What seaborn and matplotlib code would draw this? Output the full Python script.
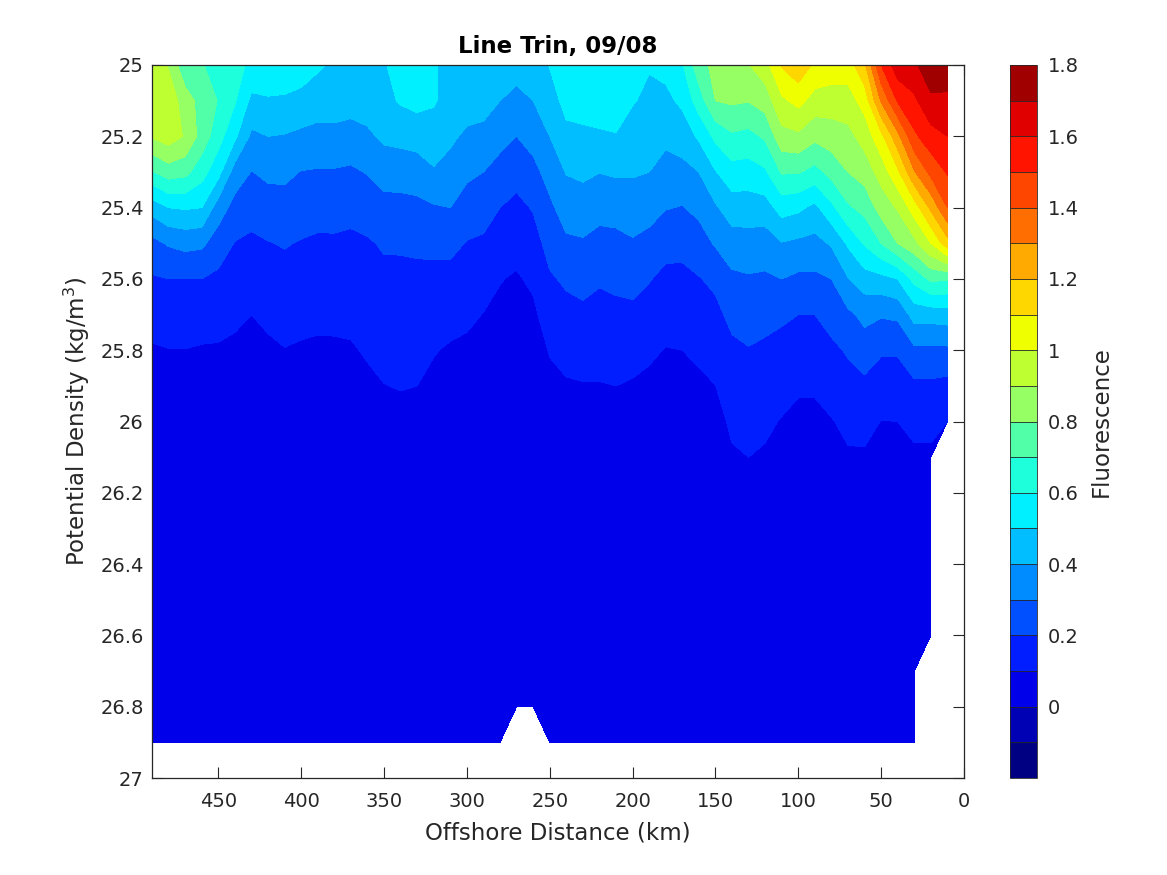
import numpy as np
import matplotlib
matplotlib.use('Agg')
import matplotlib.pyplot as plt
from matplotlib.colors import ListedColormap, BoundaryNorm
import seaborn as sns

nan = np.nan

density = [25.0, 25.1, 25.2, 25.3, 25.4, 25.5, 25.6, 25.7, 25.8, 25.9,
           26.0, 26.1, 26.2, 26.3, 26.4, 26.5, 26.6, 26.7, 26.8, 26.9]
distance = [490, 480, 470, 460, 450, 440, 430, 420, 410, 400, 390, 380, 370, 360, 350, 340, 330,
            320, 310, 300, 290, 280, 270, 260, 250, 240, 230, 220, 210, 200, 190, 180, 170, 160,
            150, 140, 130, 120, 110, 100, 90, 80, 70, 60, 50, 40, 30, 20, 10]

# fluorescence per station, top to bottom
st490 = [.96, .96, .91, .69, .44, .27, .19, .14, .09, .06, .05, .05, .05, .04, .04, .04, .04, .03, .03, .03]
st480 = [.89, .96, .95, .75, .50, .31, .20, .15, .097, .06, .05, .05, .05, .04, .04, .04, .04, .03, .03, .03]
st470 = [.72, .85, .89, .73, .51, .33, .20, .15, .098, .06, .05, .05, .05, .04, .04, .04, .04, .03, .03, .03]
st460 = [.705, .76, .76, .64, .50, .32, .20, .15, .09, .06, .05, .05, .05, .04, .04, .04, .04, .03, .03, .03]
st450 = [.67, .695, .64, .534, .35, .25, .18, .135, .09, .06, .05, .05, .05, .04, .04, .04, .04, .03, .03, .03]
st440 = [.63, .61, .52, .355, .265, .196, .156, .115, .085, .06, .05, .05, .05, .04, .04, .04, .04, .03, .03, .03]
st430 = [.58, .476, .38, .297, .235, .182, .14, .10, .08, .06, .05, .05, .05, .04, .04, .04, .04, .03, .03, .03]
st420 = [.57, .49, .40, .32, .257, .196, .157, .117, .085, .06, .05, .05, .05, .04, .04, .04, .04, .03, .03, .03]
st410 = [.57, .485, .394, .32, .264, .206, .17, .133, .097, .06, .05, .05, .05, .04, .04, .04, .04, .03, .03, .03]
st400 = [.56, .465, .38, .297, .244, .194, .16, .125, .09, .06, .05, .05, .05, .04, .04, .04, .04, .03, .03, .03]
st390 = [.515, .445, .37, .292, .233, .186, .153, .12, .085, .06, .05, .05, .05, .04, .04, .04, .04, .03, .03, .03]
st380 = [.485, .45, .37, .292, .233, .187, .155, .123, .085, .06, .05, .05, .05, .04, .04, .04, .04, .03, .03, .03]
st370 = [.47, .44, .36, .285, .224, .183, .153, .124, .09, .06, .05, .05, .05, .04, .04, .04, .04, .03, .03, .03]
st360 = [.47, .45, .38, .305, .243, .19, .165, .138, .11, .08, .06, .05, .05, .04, .04, .04, .04, .03, .03, .03]
st350 = [.49, .47, .42, .337, .27, .21, .178, .152, .125, .098, .07, .05, .05, .04, .04, .04, .04, .03, .03, .03]
st340 = [.55, .51, .43, .34, .27, .21, .18, .155, .13, .105, .07, .05, .05, .04, .04, .04, .04, .03, .03, .03]
st330 = [.57, .53, .44, .35, .275, .215, .18, .155, .13, .10, .07, .05, .05, .04, .04, .04, .04, .03, .03, .03]
st320 = [.51, .51, .455, .39, .29, .22, .177, .14, .105, .08, .06, .05, .05, .04, .04, .04, .04, .03, .03, .03]
st310 = [.47, .46, .42, .36, .30, .225, .17, .13, .09, .06, .05, .05, .05, .04, .04, .04, .04, .03, .03, .03]
st300 = [.47, .45, .38, .32, .255, .195, .155, .12, .08, .06, .05, .05, .05, .04, .04, .04, .04, .03, .03, .03]
st290 = [.48, .44, .37, .30, .24, .185, .14, .097, .07, .06, .05, .05, .05, .04, .04, .04, .04, .03, .03, .03]
st280 = [.47, .40, .33, .265, .20, .15, .104, .08, .06, .05, .05, .05, .05, .04, .04, .04, .04, .03, .03, .03]
st270 = [.44, .37, .30, .233, .175, .13, .09, .07, .05, .05, .05, .05, .05, .04, .04, .04, .04, .03, .03, nan]
st260 = [.46, .40, .337, .27, .207, .16, .117, .08, .06, .05, .05, .05, .05, .04, .04, .04, .04, .03, .03, nan]
st250 = [.505, .45, .40, .337, .28, .234, .188, .15, .105, .08, .06, .05, .05, .04, .04, .04, .04, .03, .03, .03]
st240 = [.56, .535, .47, .405, .344, .283, .215, .17, .13, .09, .06, .05, .05, .04, .04, .04, .04, .03, .03, .03]
st230 = [.57, .54, .48, .42, .35, .29, .23, .18, .135, .095, .06, .05, .05, .04, .04, .04, .04, .03, .03, .03]
st220 = [.58, .56, .483, .402, .33, .27, .21, .17, .135, .095, .06, .05, .05, .04, .04, .04, .04, .03, .03, .03]
st210 = [.58, .56, .493, .412, .34, .27, .22, .177, .14, .10, .06, .05, .05, .04, .04, .04, .04, .03, .03, .03]
st200 = [.57, .51, .44, .41, .35, .29, .23, .178, .137, .09, .06, .05, .05, .04, .04, .04, .04, .03, .03, .03]
st190 = [.51, .47, .436, .40, .336, .27, .205, .16, .115, .08, .06, .05, .05, .04, .04, .04, .04, .03, .03, .03]
st180 = [.53, .475, .42, .366, .305, .23, .177, .137, .096, .07, .05, .05, .05, .04, .04, .04, .04, .03, .03, .03]
st170 = [.59, .52, .445, .37, .295, .227, .177, .14, .10, .07, .05, .05, .05, .04, .04, .04, .04, .03, .03, .03]
st160 = [.76, .65, .515, .40, .325, .255, .195, .155, .118, .08, .06, .05, .05, .04, .04, .04, .04, .03, .03, .03]
st150 = [.83, .80, .625, .494, .387, .31, .22, .175, .137, .099, .07, .05, .05, .04, .04, .04, .04, .03, .03, .03]
st140 = [.86, .815, .685, .56, .45, .355, .28, .225, .18, .14, .115, .09, .06, .05, .04, .04, .04, .03, .03, .03]
st130 = [.895, .805, .67, .555, .45, .36, .29, .24, .195, .165, .135, .10, .08, .06, .05, .04, .04, .03, .03, .03]
st120 = [.96, .845, .715, .585, .455, .35, .285, .225, .185, .15, .115, .09, .06, .05, .04, .04, .04, .03, .03, .03]
st110 = [1.11, .98, .865, .71, .54, .395, .30, .215, .17, .13, .095, .07, .05, .05, .04, .04, .04, .03, .03, .03]
st100 = [1.17, 1.03, .88, .71, .52, .38, .28, .20, .156, .11, .08, .06, .05, .05, .04, .04, .04, .03, .03, .03]
st90 = [1.08, .96, .825, .665, .475, .37, .28, .20, .155, .11, .08, .06, .05, .05, .04, .04, .04, .03, .03, .03]
st80 = [1.06, .95, .85, .735, .575, .41, .30, .235, .18, .135, .095, .07, .05, .05, .04, .04, .04, .03, .03, .03]
st70 = [1.05, .957, .87, .80, .685, .515, .395, .28, .21, .165, .12, .09, .06, .05, .04, .04, .04, .03, .03, .03]
st60 = [1.18, 1.04, .94, .845, .73, .61, .455, .325, .255, .175, .125, .09, .06, .05, .04, .04, .04, .03, .03, .03]
st50 = [1.50, 1.31, 1.07, .94, .84, .70, .47, .31, .21, .155, .098, .07, .05, .05, .04, .04, .04, .03, .03, .03]
st40 = [1.66, 1.51, 1.27, 1.08, .91, .80, .50, .32, .21, .155, .10, .08, .06, .05, .04, .04, .04, .03, .03, .03]
st30 = [1.68, 1.58, 1.48, 1.29, 1.05, .87, .63, .44, .28, .18, .13, .08, .06, .05, .04, .04, .04, .03, .03, .03]
st20 = [1.77, 1.68, 1.56, 1.43, 1.22, 1.00, .72, .44, .28, .18, .13, .08, .06, .05, .04, .04, .04, nan, nan, nan]
st10 = [1.79, 1.67, 1.60, 1.51, 1.40, 1.16, .71, .45, .28, .17, .10, nan, nan, nan, nan, nan, nan, nan, nan, nan]

columns = [st490, st480, st470, st460, st450, st440, st430, st420, st410, st400, st390, st380, st370,
           st360, st350, st340, st330, st320, st310, st300, st290, st280, st270, st260, st250, st240,
           st230, st220, st210, st200, st190, st180, st170, st160, st150, st140, st130, st120, st110,
           st100, st90, st80, st70, st60, st50, st40, st30, st20, st10]

levels = [-0.2, -0.1, 0, 0.1, 0.2, 0.3, 0.4, 0.5, 0.6, 0.7, 0.8, 0.9, 1.0, 1.1, 1.2, 1.3, 1.4, 1.5, 1.6, 1.7, 1.8]
band_colors = ['#000082', '#0000b4', '#0000eb', '#001eff', '#0050ff', '#008cff', '#00beff', '#00f0ff',
               '#1effdc', '#50ffa8', '#96ff64', '#beff32', '#f0ff00', '#ffd700', '#ffaa00', '#ff6e00',
               '#ff4600', '#ff1400', '#e10000', '#a00000']
cbar_ticks = [0, 0.2, 0.4, 0.6, 0.8, 1, 1.2, 1.4, 1.6, 1.8]
cbar_labels = ['0', '0.2', '0.4', '0.6', '0.8', '1', '1.2', '1.4', '1.6', '1.8']
x_ticks = [450, 400, 350, 300, 250, 200, 150, 100, 50, 0]
y_ticks = [25, 25.2, 25.4, 25.6, 25.8, 26, 26.2, 26.4, 26.6, 26.8, 27]
y_labels = ['25', '25.2', '25.4', '25.6', '25.8', '26', '26.2', '26.4', '26.6', '26.8', '27']

sns.set_style('ticks')
plt.rcParams['font.family'] = 'DejaVu Sans'

W, H = 1167, 875
fig = plt.figure(figsize=(W / 100, H / 100), dpi=100)
ax = fig.add_axes([152 / W, 1 - 778 / H, 812 / W, 713 / H])
cax = fig.add_axes([1010 / W, 1 - 778 / H, 27 / W, 713 / H])

grid = np.ma.masked_invalid(np.array(columns).T)
cmap = ListedColormap(band_colors)
norm = BoundaryNorm(levels, 20)
cf = ax.contourf(distance, density, grid, levels=levels, cmap=cmap, norm=norm, corner_mask=True)

ax.set_xlim(490, 0)
ax.set_ylim(27, 25)
ax.set_xticks(x_ticks)
ax.set_yticks(y_ticks)
ax.set_yticklabels(y_labels)
ax.tick_params(direction='in', length=8, width=0.8, top=True, right=True, labelsize=14, color='.15')
ax.tick_params(axis='x', pad=10)
ax.tick_params(axis='y', pad=6)
for s in ax.spines.values():
    s.set_linewidth(0.9)
ax.set_xlabel('Offshore Distance (km)', fontsize=16.5, labelpad=7.5)
ax.set_ylabel('Potential Density (kg/m$^3$)', fontsize=16.5, labelpad=6)
ax.set_title('Line Trin, 09/08', fontsize=16.5, fontweight='bold', color='black', pad=9)

cb = fig.colorbar(cf, cax=cax, drawedges=True)
cb.set_ticks(cbar_ticks)
cb.set_ticklabels(cbar_labels)
cb.ax.minorticks_off()
cb.ax.tick_params(length=0, labelsize=14, pad=7.5)
cb.dividers.set_linewidth(0.6)
cb.dividers.set_color('.15')
cb.outline.set_linewidth(0.6)
cb.set_label('Fluorescence', fontsize=16.5, labelpad=8)

fig.savefig('out.png', dpi=100)
